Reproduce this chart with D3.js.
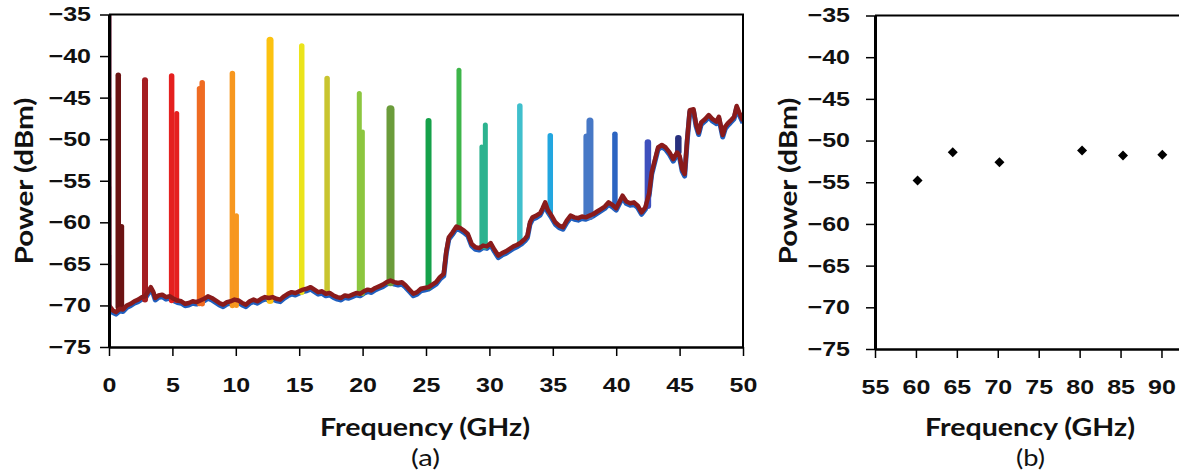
<!DOCTYPE html>
<html>
<head>
<meta charset="utf-8">
<script src="https://cdn.jsdelivr.net/npm/d3@7"></script>
<style>
  body { margin: 0; background: #fff; }
  svg { display: block; font-family: Lato, "Open Sans", sans-serif; }
  .axis .tick text { font-weight: 700; font-size: 20px; fill: #111; }
  .axis path, .axis line { stroke: #000; }
  .axis-title { font-weight: 700; font-size: 25px; fill: #111; }
  .panel-label { font-weight: 400; font-size: 24px; fill: #111; }
</style>
</head>
<body>
<div id="chart"></div>
<script>
// ---- data ----
const yTicks = [-75, -70, -65, -60, -55, -50, -45, -40, -35];
const xTicksA = [0, 5, 10, 15, 20, 25, 30, 35, 40, 45, 50];
const xTicksB = [55, 60, 65, 70, 75, 80, 85, 90];

// noise floor of the spectrum analyser (GHz, dBm)
const floorFreq = [0.00, 0.30, 0.55, 0.85, 1.10, 1.40, 1.70, 2.00, 2.30, 2.60, 2.85, 3.10, 3.30, 3.50, 3.65, 3.90,
  4.20, 4.50, 4.80, 5.10, 5.40, 5.70, 6.00, 6.30, 6.60, 6.90, 7.20, 7.50, 7.80, 8.10, 8.40, 8.70, 9.00, 9.30,
  9.60, 9.90, 10.2, 10.5, 10.8, 11.1, 11.4, 11.7, 12.0, 12.3, 12.6, 12.9, 13.2, 13.5, 13.8, 14.1, 14.4, 14.7,
  15.0, 15.3, 15.6, 15.9, 16.2, 16.5, 16.8, 17.1, 17.4, 17.7, 18.0, 18.3, 18.6, 18.9, 19.2, 19.5, 19.8, 20.1,
  20.4, 20.7, 21.0, 21.3, 21.6, 21.9, 22.2, 22.5, 22.8, 23.1, 23.4, 23.7, 24.0, 24.3, 24.6, 24.9, 25.2, 25.5,
  25.8, 26.1, 26.4, 26.6, 26.8, 27.1, 27.4, 27.7, 28.0, 28.3, 28.6, 28.9, 29.2, 29.5, 29.8, 30.1, 30.4, 30.7,
  31.0, 31.3, 31.6, 31.9, 32.2, 32.5, 32.8, 33.0, 33.2, 33.4, 33.7, 34.0, 34.2, 34.4, 34.6, 34.9, 35.2, 35.5,
  35.8, 36.1, 36.4, 36.7, 37.0, 37.3, 37.6, 37.9, 38.2, 38.5, 38.8, 39.1, 39.4, 39.7, 40.0, 40.3, 40.5, 40.8,
  41.1, 41.4, 41.7, 42.0, 42.3, 42.6, 42.8, 43.0, 43.3, 43.6, 43.9, 44.2, 44.5, 44.8, 45.0, 45.2, 45.4, 45.6,
  45.8, 46.1, 46.3, 46.5, 46.7, 47.0, 47.3, 47.6, 47.9, 48.1, 48.4, 48.6, 48.8, 49.0, 49.3, 49.5, 49.7, 50.0];
const floorPower = [-70.0, -70.6, -70.8, -70.4, -70.5, -70.0, -69.8, -69.5, -69.3, -69.0, -68.9, -68.3, -67.8, -68.4, -69.1, -68.8,
  -68.7, -69.0, -68.9, -69.2, -69.4, -69.5, -69.8, -69.7, -69.5, -69.6, -69.4, -69.2, -68.9, -69.1, -69.4, -69.7, -69.9, -69.6,
  -69.5, -69.3, -69.4, -69.7, -69.9, -69.5, -69.3, -69.5, -69.2, -69.0, -69.1, -69.0, -69.2, -69.3, -68.9, -68.6, -68.4, -68.5,
  -68.3, -68.1, -68.0, -67.8, -68.1, -68.4, -68.3, -68.6, -68.5, -68.8, -69.0, -69.1, -68.8, -68.9, -68.7, -68.5, -68.6, -68.3,
  -68.1, -68.2, -67.9, -67.7, -67.5, -67.2, -67.0, -67.2, -67.3, -67.2, -67.6, -68.1, -68.6, -68.4, -68.0, -67.9, -67.8, -67.5,
  -67.2, -66.6, -66.2, -63.5, -61.8, -61.2, -60.5, -60.7, -61.0, -61.4, -62.6, -63.0, -63.1, -62.8, -62.9, -62.5, -63.3, -64.0,
  -63.7, -63.5, -63.2, -62.9, -62.7, -62.4, -62.0, -61.6, -60.0, -59.4, -59.2, -58.9, -58.3, -57.6, -58.5, -59.2, -60.0, -60.4,
  -60.6, -59.8, -59.2, -59.4, -59.5, -59.3, -59.4, -59.2, -59.0, -58.7, -58.4, -58.1, -57.6, -57.9, -58.3, -57.4, -56.8, -57.5,
  -57.7, -57.6, -58.0, -58.8, -58.2, -56.5, -54.0, -52.8, -51.0, -50.7, -51.0, -51.6, -52.4, -51.6, -52.0, -53.6, -54.2, -50.0,
  -46.5, -46.4, -48.2, -49.2, -48.0, -47.6, -47.1, -47.6, -47.9, -47.3, -49.5, -48.5, -48.1, -47.8, -47.3, -46.0, -46.8, -47.8];

// one tone per trace
const peakFreq  = [0.73, 2.84, 4.94, 7.35, 9.73, 12.7, 15.2, 17.2, 19.74, 22.2, 25.2, 27.6, 29.68, 32.4, 34.8, 37.93, 39.9, 42.5, 44.9];
const peakTop   = [-42.3, -42.9, -42.4, -43.2, -42.1, -38.1, -38.8, -42.7, -44.5, -46.4, -47.8, -41.7, -48.3, -46.0, -49.6, -47.8, -49.4, -50.4, -49.9];
const peakBase  = [-70.2, -69.3, -69.4, -69.8, -70.0, -69.4, -68.4, -68.5, -68.6, -67.2, -67.8, -60.6, -63.0, -62.3, -58.9, -59.3, -58.3, -58.0, -51.5];
const peakColor = ['#6b1313', '#a51e22', '#e5201f', '#ef6b22', '#f7971f', '#fcc210', '#ebe41b', '#c8c42f', '#8cc63f', '#6b9c3b',
  '#15a14a', '#3db54a', '#2cb38f', '#3fbfcc', '#22a6df', '#4778c6', '#2c64c1', '#3f50bd', '#28307e'];
const peakWidth = [5.5, 6, 5.5, 5.5, 5.5, 7, 5.5, 5.5, 5, 8, 6, 5, 5, 5.5, 5.5, 7, 5.5, 6.5, 6.5];

// secondary steps on some of the tones
const shoulderPeak  = [0, 2, 3, 4, 8, 12, 15];
const shoulderFreq  = [1.0, 5.34, 7.12, 10.05, 20.0, 29.39, 37.67];
const shoulderLevel = [-60.5, -46.9, -43.9, -59.2, -49.1, -50.9, -49.7];

// DC leak of the first trace at 0 GHz
const dcFreq = [0.04, 0.06];
const dcPower = [-30, -70.3];

// (b) measured power of the tones above 50 GHz
const bFreq  = [60.2, 64.5, 70.2, 80.3, 85.3, 90.1];
const bPower = [-54.8, -51.4, -52.6, -51.2, -51.8, -51.7];

// ---- layout ----
const W = 1179, H = 476;
const A = {left: 109, right: 743, top: 14.5, bottom: 347};
const B = {left: 875, right: 1202.4, top: 15.5, bottom: 349};
const sx = 1.25; // the figure's lettering is wide

const svg = d3.select('#chart').append('svg')
    .attr('width', W)
    .attr('height', H);

const xA = d3.scaleLinear().domain([0, 50]).range([A.left, A.right]);
const yA = d3.scaleLinear().domain([-75, -35]).range([A.bottom, A.top]);
const xB = d3.scaleLinear().domain([55, 95]).range([B.left, B.right]);
const yB = d3.scaleLinear().domain([-75, -35]).range([B.bottom, B.top]);

svg.append('clipPath').attr('id', 'clipA')
  .append('rect')
    .attr('x', A.left).attr('y', A.top)
    .attr('width', A.right - A.left).attr('height', A.bottom - A.top);

const plotA = svg.append('g').attr('clip-path', 'url(#clipA)');
const lineA = d3.line().x(d => xA(d[0])).y(d => yA(d[1]));
const floor = floorFreq.map((f, i) => [f, floorPower[i]]);

// blue traces showing just under the red one
plotA.append('path')
    .attr('d', lineA(floor))
    .attr('transform', 'translate(0,2)')
    .attr('fill', 'none')
    .attr('stroke', '#1f5fbf')
    .attr('stroke-width', 5)
    .attr('stroke-linejoin', 'round');

// tones: a vertical stroke each, plus the secondary steps
function tone(f, top, base, color, width) {
  plotA.append('path')
      .attr('class', 'tone')
      .attr('d', lineA([[f, base], [f, top]]))
      .attr('fill', 'none')
      .attr('stroke', color)
      .attr('stroke-width', width)
      .attr('stroke-linecap', 'round');
}
peakFreq.forEach((f, i) => tone(f, peakTop[i], peakBase[i], peakColor[i], peakWidth[i]));
shoulderPeak.forEach((p, j) => tone(shoulderFreq[j], shoulderLevel[j], peakBase[p], peakColor[p], peakWidth[p] - 0.5));

// red trace on top
plotA.append('path')
    .attr('d', lineA(floor))
    .attr('fill', 'none')
    .attr('stroke', '#8a1b1b')
    .attr('stroke-width', 4.5)
    .attr('stroke-linejoin', 'round');

plotA.append('path')
    .attr('d', lineA(dcFreq.map((f, i) => [f, dcPower[i]])))
    .attr('fill', 'none')
    .attr('stroke', '#5c1830')
    .attr('stroke-width', 4);

// ---- axes ----
function styleY(g, gap) {
  g.select('.domain').attr('stroke-width', 3);
  g.selectAll('.tick line').attr('stroke-width', 1.5);
  g.selectAll('.tick text')
      .attr('x', -gap / sx)
      .attr('transform', `scale(${sx},1)`);
}
function styleX(g) {
  g.select('.domain').attr('stroke-width', 2.5);
  g.selectAll('.tick line').attr('stroke-width', 1.5);
  g.selectAll('.tick text')
      .attr('y', 31)
      .attr('transform', `scale(${sx},1)`);
}

// panel (a)
svg.append('line')
    .attr('x1', A.left).attr('x2', A.right + 1)
    .attr('y1', A.top).attr('y2', A.top)
    .attr('stroke', '#000').attr('stroke-width', 2);
svg.append('line')
    .attr('x1', A.right).attr('x2', A.right)
    .attr('y1', A.top).attr('y2', A.bottom)
    .attr('stroke', '#000').attr('stroke-width', 2);

svg.append('g')
    .attr('class', 'axis')
    .attr('transform', `translate(0,${A.bottom})`)
    .call(d3.axisBottom(xA).tickValues(xTicksA).tickSize(9).tickSizeOuter(0))
    .call(styleX);

svg.append('g')
    .attr('class', 'axis')
    .attr('transform', `translate(${A.left},0)`)
    .call(d3.axisLeft(yA).tickValues(yTicks).tickSize(9).tickSizeOuter(0))
    .call(g => styleY(g, 18));

// panel (b)
svg.append('line')
    .attr('x1', B.left).attr('x2', B.right)
    .attr('y1', B.top).attr('y2', B.top)
    .attr('stroke', '#000').attr('stroke-width', 2);

svg.append('g')
    .attr('class', 'axis')
    .attr('transform', `translate(0,${B.bottom})`)
    .call(d3.axisBottom(xB).tickValues(xTicksB).tickSize(9).tickSizeOuter(0))
    .call(styleX);

svg.append('g')
    .attr('class', 'axis')
    .attr('transform', `translate(${B.left},0)`)
    .call(d3.axisLeft(yB).tickValues(yTicks).tickSize(9).tickSizeOuter(0))
    .call(g => styleY(g, 25));

svg.append('g').selectAll('path')
    .data(bFreq)
  .join('path')
    .attr('d', d3.symbol(d3.symbolSquare, 50))
    .attr('transform', (d, i) => `translate(${xB(d)},${yB(bPower[i])}) rotate(45)`)
    .attr('fill', '#000');

// ---- titles ----
function xTitle(cx, label) {
  svg.append('text')
      .attr('class', 'axis-title')
      .attr('x', cx).attr('y', 436)
      .attr('text-anchor', 'middle')
      .attr('textLength', 210)
      .attr('lengthAdjust', 'spacingAndGlyphs')
      .text('Frequency (GHz)');
  svg.append('text')
      .attr('class', 'panel-label')
      .attr('x', cx - 14).attr('y', 466)
      .attr('textLength', 29)
      .attr('lengthAdjust', 'spacingAndGlyphs')
      .text(label);
}
function yTitle(bx) {
  svg.append('text')
      .attr('class', 'axis-title')
      .attr('transform', `translate(${bx},181) rotate(-90)`)
      .attr('text-anchor', 'middle')
      .attr('textLength', 167)
      .attr('lengthAdjust', 'spacingAndGlyphs')
      .text('Power (dBm)');
}
xTitle(425, '(a)');
xTitle(1030, '(b)');
yTitle(33);
yTitle(797);
</script>
</body>
</html>
